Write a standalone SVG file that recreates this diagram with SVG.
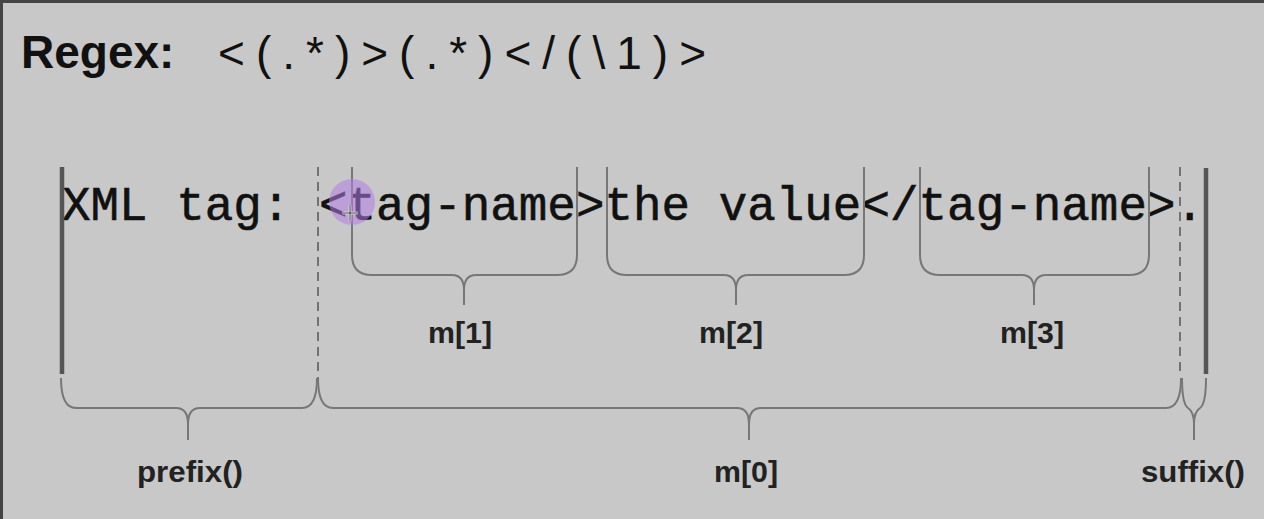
<svg xmlns="http://www.w3.org/2000/svg" width="1264" height="519" viewBox="0 0 1264 519">
<style>
.bg{fill:#c8c8c8}
.title{font-family:"Liberation Sans",Arial,sans-serif;font-weight:bold;font-size:46px;fill:#111}
.regex{font-family:"Liberation Sans",Arial,sans-serif;font-size:46px;fill:#111}
.code{font-family:"Liberation Mono","Courier New",monospace;font-size:47.5px;fill:#111;stroke:#111;stroke-width:0.6}
.lbl{font-family:"Liberation Sans",Arial,sans-serif;font-weight:bold;font-size:30px;fill:#222;text-anchor:middle}
.thick{stroke:#555;stroke-width:4.5;fill:none}
.dash{stroke:#555;stroke-width:1.5;stroke-dasharray:9 6;fill:none}
.brace{stroke:#777;stroke-width:2;fill:none}
</style>
<rect class="bg" x="0" y="0" width="1264" height="519"/>
<rect x="0" y="0" width="1264" height="3" fill="#444"/>
<rect x="0" y="0" width="3" height="519" fill="#444"/>
<g id="title">
<text class="title" x="21" y="68">Regex:</text>
<text class="regex" x="218" y="69" textLength="488" lengthAdjust="spacing">&lt;(.*)&gt;(.*)&lt;/(\1)&gt;</text>
</g>
<g id="xml-text">
<text class="code" x="62" y="220" textLength="1142" lengthAdjust="spacing">XML tag: &lt;tag-name&gt;the value&lt;/tag-name&gt;.</text>
</g>
<g id="connectors">
<line class="thick" x1="62" y1="167" x2="62" y2="374"/>
<line class="thick" x1="1206" y1="168" x2="1206" y2="374"/>
<line class="dash" x1="318" y1="167" x2="318" y2="378"/>
<line class="dash" x1="1180" y1="167" x2="1180" y2="372"/>
</g>
<g id="brace-m1">
<path class="brace" d="M352 167 L352 255 Q352 275 372 275 L452 275 Q464 275 464 290 L464 305 M464 290 Q464 275 476 275 L557 275 Q577 275 577 255 L577 167"/>
<text class="lbl" x="460" y="343" textLength="64" lengthAdjust="spacingAndGlyphs">m[1]</text>
</g>
<g id="brace-m2">
<path class="brace" d="M607 167 L607 255 Q607 275 627 275 L724 275 Q736 275 736 290 L736 305 M736 290 Q736 275 748 275 L844 275 Q864 275 864 255 L864 167"/>
<text class="lbl" x="731" y="343" textLength="64" lengthAdjust="spacingAndGlyphs">m[2]</text>
</g>
<g id="brace-m3">
<path class="brace" d="M920 167 L920 255 Q920 275 940 275 L1022 275 Q1034 275 1034 290 L1034 305 M1034 290 Q1034 275 1046 275 L1129 275 Q1149 275 1149 255 L1149 167"/>
<text class="lbl" x="1032" y="343" textLength="64" lengthAdjust="spacingAndGlyphs">m[3]</text>
</g>
<g id="brace-prefix">
<path class="brace" d="M61 378 Q61 408 76 408 L176 408 Q188 408 188 424 L188 440 M188 424 Q188 408 200 408 L302 408 Q317 408 317 378"/>
<text class="lbl" x="190" y="482" textLength="106" lengthAdjust="spacingAndGlyphs">prefix()</text>
</g>
<g id="brace-m0">
<path class="brace" d="M318 378 Q318 408 333 408 L737 408 Q749 408 749 424 L749 440 M749 424 Q749 408 761 408 L1166 408 Q1181 408 1181 378"/>
<text class="lbl" x="746" y="482" textLength="64" lengthAdjust="spacingAndGlyphs">m[0]</text>
</g>
<g id="brace-suffix">
<path class="brace" d="M1182 378 Q1182 404 1188 408 Q1194 412 1194 424 L1194 440 M1194 424 Q1194 412 1200 408 Q1206 404 1206 378"/>
<text class="lbl" x="1193" y="482" textLength="104" lengthAdjust="spacingAndGlyphs">suffix()</text>
</g>
<g id="cursor">
<circle cx="352" cy="202" r="23" fill="#b57ee6" fill-opacity="0.55"/>
<path d="M350 205 L350 221 M342 213 L358 213" stroke="#fff" stroke-width="2.5"/>
<path d="M350 205 L350 221 M342 213 L358 213" stroke="#333" stroke-width="1"/>
</g>
</svg>
